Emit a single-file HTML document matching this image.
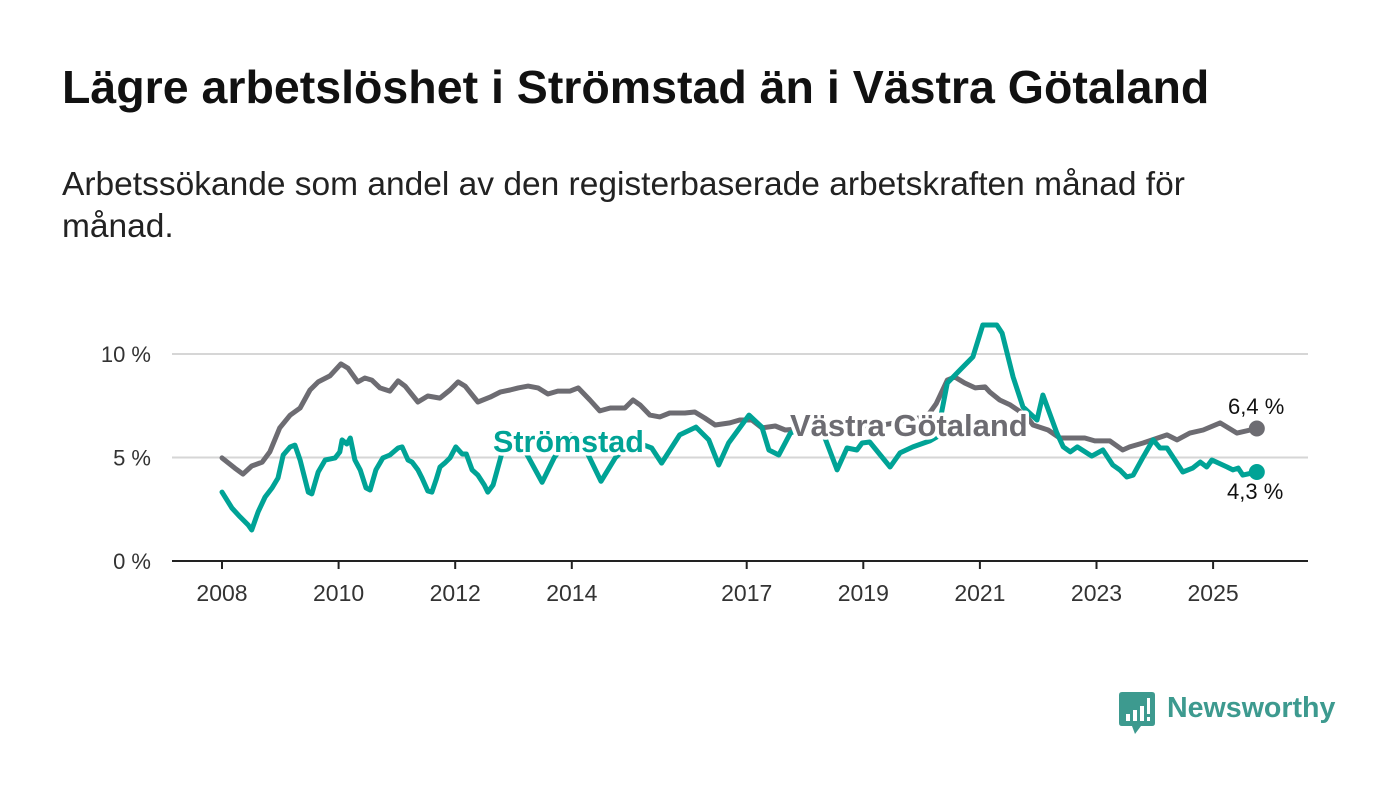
<!DOCTYPE html>
<html><head><meta charset="utf-8">
<style>
body{margin:0;background:#fff;width:1400px;height:794px;overflow:hidden;font-family:"Liberation Sans",sans-serif;}
h1{position:absolute;left:62px;top:60px;margin:0;font-size:46.5px;font-weight:bold;color:#111;}
p.sub{position:absolute;left:62px;top:164px;margin:0;font-size:33.5px;line-height:42px;color:#222;width:1300px}
svg{position:absolute;left:0;top:0}
</style></head><body>
<h1>Lägre arbetslöshet i Strömstad än i Västra Götaland</h1>
<p class="sub">Arbetssökande som andel av den registerbaserade arbetskraften månad för<br>månad.</p>
<svg id="chart" width="1400" height="794"></svg>
<div style="position:absolute;left:1119px;top:692px;">
<svg width="36" height="42" style="position:absolute;left:0;top:0">
<path d="M3 0H33Q36 0 36 3V31Q36 34 33 34H22L16 42L13 34H3Q0 34 0 31V3Q0 0 3 0Z" fill="#3d9a8f"/>
<rect x="7" y="22" width="4" height="7" fill="#fff"/><rect x="14" y="18" width="4" height="11" fill="#fff"/><rect x="21" y="14" width="4" height="15" fill="#fff"/><rect x="28" y="6" width="3" height="16" fill="#fff"/><rect x="28" y="25" width="3" height="4" fill="#fff"/>
</svg>
<span style="position:absolute;left:48px;top:0px;font-size:28.6px;font-weight:bold;color:#3d9a8f;white-space:nowrap">Newsworthy</span>
</div>
<script>
const yearTicks=[2008,2010,2012,2014,2017,2019,2021,2023,2025];
const yTicks=[0,5,10];
const yTickLabels=["0 %","5 %","10 %"];
const vgDates=[2008.00,2008.22,2008.36,2008.51,2008.69,2008.82,2008.99,2009.17,2009.34,2009.51,2009.65,2009.85,2010.04,2010.16,2010.33,2010.45,2010.57,2010.71,2010.88,2011.02,2011.14,2011.36,2011.53,2011.74,2011.91,2012.05,2012.17,2012.39,2012.60,2012.77,2012.94,2013.08,2013.25,2013.42,2013.59,2013.76,2013.97,2014.11,2014.31,2014.48,2014.66,2014.91,2015.05,2015.17,2015.34,2015.51,2015.68,2015.94,2016.11,2016.28,2016.46,2016.71,2016.88,2017.09,2017.26,2017.49,2017.66,2018.0,2018.4,2019.0,2019.6,2020.1,2020.25,2020.44,2020.57,2020.74,2020.92,2021.09,2021.17,2021.34,2021.52,2021.65,2021.8,2021.91,2022.17,2022.37,2022.80,2022.97,2023.23,2023.45,2023.57,2023.80,2024.21,2024.38,2024.60,2024.83,2025.12,2025.41,2025.75];
const vgValues=[4.98,4.49,4.20,4.59,4.78,5.27,6.43,7.05,7.39,8.26,8.65,8.94,9.52,9.32,8.65,8.84,8.74,8.36,8.21,8.70,8.45,7.68,7.97,7.87,8.26,8.65,8.45,7.68,7.92,8.16,8.26,8.36,8.45,8.36,8.07,8.21,8.21,8.36,7.78,7.25,7.39,7.39,7.78,7.54,7.05,6.96,7.15,7.15,7.20,6.91,6.57,6.67,6.81,6.81,6.43,6.52,6.33,6.4,6.3,6.4,6.7,7.0,7.6,8.74,8.89,8.60,8.36,8.41,8.16,7.78,7.54,7.29,7.0,6.57,6.33,5.94,5.94,5.80,5.80,5.36,5.51,5.70,6.09,5.85,6.18,6.33,6.67,6.18,6.40];
const stDates=[2008.00,2008.17,2008.31,2008.45,2008.51,2008.62,2008.74,2008.86,2008.96,2009.05,2009.17,2009.25,2009.34,2009.48,2009.54,2009.65,2009.77,2009.94,2010.02,2010.06,2010.14,2010.20,2010.28,2010.37,2010.47,2010.54,2010.64,2010.76,2010.88,2011.02,2011.09,2011.19,2011.26,2011.36,2011.43,2011.53,2011.60,2011.67,2011.74,2011.82,2011.91,2012.01,2012.12,2012.19,2012.29,2012.39,2012.50,2012.56,2012.65,2012.8,2013.0,2013.2,2013.49,2013.7,2014.0,2014.2,2014.5,2014.75,2015.05,2015.37,2015.54,2015.85,2016.13,2016.35,2016.52,2016.69,2017.04,2017.26,2017.38,2017.55,2017.75,2018.0,2018.31,2018.55,2018.72,2018.89,2018.98,2019.11,2019.46,2019.63,2019.85,2020.14,2020.26,2020.44,2020.66,2020.88,2021.05,2021.29,2021.38,2021.57,2021.74,2021.98,2022.08,2022.32,2022.43,2022.55,2022.67,2022.92,2023.11,2023.28,2023.40,2023.52,2023.63,2023.80,2023.97,2024.09,2024.21,2024.48,2024.65,2024.78,2024.89,2024.98,2025.24,2025.34,2025.43,2025.51,2025.75];
const stValues=[3.33,2.56,2.13,1.74,1.50,2.37,3.09,3.53,4.01,5.12,5.51,5.60,4.88,3.33,3.24,4.30,4.88,4.98,5.27,5.85,5.65,5.94,4.88,4.40,3.53,3.43,4.40,4.98,5.12,5.46,5.51,4.88,4.78,4.40,4.01,3.38,3.33,3.91,4.54,4.73,4.98,5.51,5.17,5.17,4.40,4.15,3.67,3.33,3.67,5.2,5.8,5.3,3.8,5.0,6.1,5.6,3.85,5.0,5.8,5.46,4.73,6.09,6.47,5.85,4.64,5.70,7.05,6.47,5.36,5.12,6.18,6.5,6.18,4.40,5.46,5.36,5.70,5.75,4.54,5.22,5.51,5.80,5.99,8.60,9.23,9.86,11.40,11.40,11.01,8.89,7.44,6.81,8.02,6.18,5.51,5.27,5.51,5.07,5.36,4.64,4.40,4.06,4.15,5.02,5.85,5.46,5.46,4.30,4.49,4.78,4.54,4.88,4.54,4.40,4.49,4.15,4.30];
const endLabels=["6,4 %","4,3 %"];

const NS="http://www.w3.org/2000/svg";
const svg=document.getElementById('chart');
const X=y=>222+(y-2008)*58.3;
const Y=v=>561-v*20.7;
function el(t,a,p){const e=document.createElementNS(NS,t);for(const k in a)e.setAttribute(k,a[k]);(p||svg).appendChild(e);return e;}
yTicks.forEach((v,i)=>{
  if(v>0){const g=el('line',{x1:172,x2:1308,y1:Y(v),y2:Y(v),stroke:'#d6d6d6','stroke-width':2});
  
  }
  const t=el('text',{x:151,y:Y(v)+8,'text-anchor':'end','font-size':22,fill:'#333'});
  t.textContent=yTickLabels[i];
  
  
});
const ax=el('line',{x1:172,x2:1308,y1:561,y2:561,stroke:'#222','stroke-width':2});


yearTicks.forEach(yr=>{
  const tk=el('line',{x1:X(yr),x2:X(yr),y1:561,y2:569,stroke:'#222','stroke-width':2});
  
  
  const t=el('text',{x:X(yr),y:601,'text-anchor':'middle','font-size':23,fill:'#333'});
  t.textContent=yr;
  
  
});
function line(d,v,c,name){
  const pts=d.map((x,i)=>X(x).toFixed(1)+','+Y(v[i]).toFixed(1)).join(' ');
  const p=el('polyline',{points:pts,fill:'none',stroke:c,'stroke-width':5,'stroke-linejoin':'round','stroke-linecap':'round'});
  
  
  const dot=el('circle',{cx:X(d[d.length-1]),cy:Y(v[v.length-1]),r:8,fill:c});
  
  
}
line(vgDates,vgValues,'#6d6c72','vastra-gotaland-line');
line(stDates,stValues,'#00a396','stromstad-line');
function label(txt,x,y,c,name,size,bold){
  const t=el('text',{x:x,y:y,'font-size':size,'font-weight':bold?'bold':'normal',fill:c,stroke:'#fff','stroke-width':bold?7:5,'paint-order':'stroke','stroke-linejoin':'round'});
  t.textContent=txt;
  
  
}
label('Strömstad',493,452,'#00a396','stromstad-label',30.5,true);
label('Västra Götaland',790,436,'#6d6c72','vastra-gotaland-label',31,true);
label(endLabels[0],1228,414,'#111','vg-end-value',22,false);
label(endLabels[1],1227,499,'#111','stromstad-end-value',22,false);
</script>
</body></html>
